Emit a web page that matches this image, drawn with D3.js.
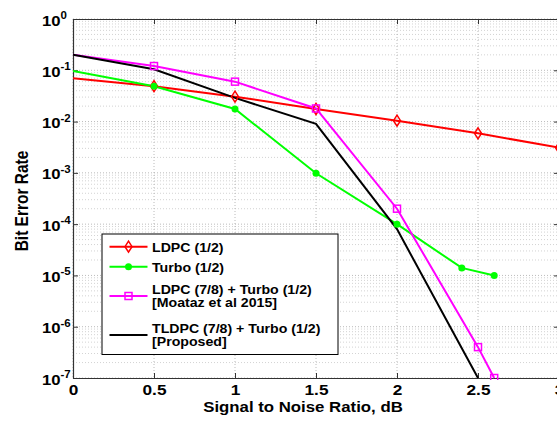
<!DOCTYPE html>
<html>
<head>
<meta charset="utf-8">
<script src="https://cdn.jsdelivr.net/npm/d3@7"></script>
<style>
    body { margin: 0; background: #fff; }
    svg { display: block; font-family: "Liberation Sans", Arial, sans-serif; }
</style>
</head>
<body>
<svg id="chart_ber"></svg>
<script>
// Values
const snrX = [0, 0.5, 1, 1.5, 2, 2.5, 3];
const ldpcBer = [0.07, 0.049, 0.0306, 0.0176, 0.0104, 0.0059, 0.0031];

const turboX = [0, 0.5, 1, 1.5, 2, 2.4, 2.6];
const turboBer = [0.097, 0.049, 0.0176, 0.00098, 0.0001, 1.4e-5, 1.0e-5];

const moatazX = [0, 0.5, 1, 1.5, 2, 2.5, 2.6];
const moatazBer = [0.2, 0.121, 0.06, 0.018, 0.0002, 4e-7, 1e-7];

const proposedX = [0, 0.5, 1, 1.5, 2, 2.5];
const proposedBer = [0.2, 0.105, 0.029, 0.009, 0.00008, 1e-7];

const xTicks = [0, 0.5, 1, 1.5, 2, 2.5, 3];
const yExponents = [0, -1, -2, -3, -4, -5, -6, -7];

const seriesNames = [
    ["LDPC (1/2)"],
    ["Turbo (1/2)"],
    ["LDPC (7/8) + Turbo (1/2)", "[Moataz et al 2015]"],
    ["TLDPC (7/8) + Turbo (1/2)", "[Proposed]"]
];
const seriesColours = ["#ff0000", "#00ff00", "#ff00ff", "#000000"];
const seriesMarkers = ["diamond", "dot", "square", "none"];

// The reference text is a bit wider than the font, stretch it horizontally
const stretch = 1.15;

const width = 557, height = 426;
const margin = { top: 19, right: -2, bottom: 48, left: 73 };
const plotW = width - margin.left - margin.right;
const plotH = height - margin.top - margin.bottom;

const svg = d3.select("#chart_ber")
    .attr("width", width)
    .attr("height", height);

const g = svg.append("g")
    .attr("transform", `translate(${margin.left}, ${margin.top})`);

const xScale = d3.scaleLinear().domain([0, 3]).range([0, plotW]);
const yScale = d3.scaleLog().domain([1e-7, 1]).range([plotH, 0]);
const decades = yExponents.map(e => Math.pow(10, e));

// Grid - minor log lines first, then major
const minorY = [];
yExponents.slice(1).forEach(e => {
    for (let m = 2; m <= 9; m++) minorY.push(m * Math.pow(10, e));
});

g.selectAll(".minorGrid")
    .data(minorY)
    .join("line")
    .attr("x1", 0)
    .attr("x2", plotW)
    .attr("y1", d => yScale(d))
    .attr("y2", d => yScale(d))
    .attr("stroke", "#c8c8c8")
    .attr("stroke-width", 0.8)
    .attr("stroke-dasharray", "1,2");

g.selectAll(".yGrid")
    .data(decades)
    .join("line")
    .attr("x1", 0)
    .attr("x2", plotW)
    .attr("y1", d => yScale(d))
    .attr("y2", d => yScale(d))
    .attr("stroke", "#a8a8a8")
    .attr("stroke-width", 0.8)
    .attr("stroke-dasharray", "1,2");

g.selectAll(".xGrid")
    .data(xTicks)
    .join("line")
    .attr("x1", d => xScale(d))
    .attr("x2", d => xScale(d))
    .attr("y1", 0)
    .attr("y2", plotH)
    .attr("stroke", "#a8a8a8")
    .attr("stroke-width", 0.8)
    .attr("stroke-dasharray", "1,2");

// Axes (MATLAB style, ticks pointing in)
const xAxis = d3.axisBottom(xScale).tickValues(xTicks).tickSizeInner(-5).tickSizeOuter(0)
    .tickPadding(6).tickFormat(d => d3.format("")(d));

const xAxisG = g.append("g")
    .attr("transform", `translate(0, ${plotH})`)
    .call(xAxis);
xAxisG.selectAll("text")
    .attr("transform", `scale(${stretch}, 1)`)
    .style("font-size", "15px")
    .style("font-weight", "bold")
    .attr("fill", "#000");

g.append("g")
    .call(d3.axisTop(xScale).tickValues(xTicks).tickSizeInner(-5).tickSizeOuter(0).tickFormat(""));

g.append("g")
    .call(d3.axisLeft(yScale).tickValues(decades).tickSizeInner(-5).tickSizeOuter(0).tickFormat(""));
g.append("g").attr("transform", `translate(${plotW}, 0)`)
    .call(d3.axisRight(yScale).tickValues(decades).tickSizeInner(-5).tickSizeOuter(0).tickFormat(""));

g.selectAll(".domain").attr("stroke", "#333").attr("stroke-width", 1.2);
g.selectAll(".tick line").attr("stroke", "#333");

// y tick labels as 10^n
const yLabels = g.selectAll(".yLabel")
    .data(yExponents)
    .join("text")
    .attr("transform", d => `translate(-31, ${yScale(Math.pow(10, d)) + 6.5}) scale(${stretch}, 1)`)
    .attr("text-anchor", "start")
    .style("font-weight", "bold")
    .attr("fill", "#000");
yLabels.append("tspan").style("font-size", "14.5px").text("10");
yLabels.append("tspan").style("font-size", "10px").attr("dy", -6.5).text(d => d);

// Axis titles
svg.append("text")
    .attr("transform", `translate(${margin.left + xScale(1.5) - 13}, 412) scale(1.12, 1)`)
    .attr("text-anchor", "middle")
    .style("font-size", "15px")
    .style("font-weight", "bold")
    .text("Signal to Noise Ratio, dB");

svg.append("text")
    .attr("transform", `translate(28, 201) scale(${stretch}, 1) rotate(-90)`)
    .attr("text-anchor", "middle")
    .style("font-size", "15.5px")
    .style("font-weight", "bold")
    .text("Bit Error Rate");

// Lines
svg.append("clipPath").attr("id", "plotClip")
    .append("rect").attr("x", 0).attr("y", -2).attr("width", plotW).attr("height", plotH + 4);

const lineGenerator = d3.line()
    .x(d => xScale(d[0]))
    .y(d => yScale(d[1]));

const allSeries = [
    d3.zip(snrX, ldpcBer),
    d3.zip(turboX, turboBer),
    d3.zip(moatazX, moatazBer),
    d3.zip(proposedX, proposedBer)
];

const plotLayer = g.append("g").attr("clip-path", "url(#plotClip)");

function drawMarker(sel, type, colour, x, y) {
    if (type === "diamond") {
        sel.append("path")
            .attr("d", `M${x},${y - 5.5}L${x + 3.5},${y}L${x},${y + 5.5}L${x - 3.5},${y}Z`)
            .attr("fill", "none").attr("stroke", colour).attr("stroke-width", 1.5);
    } else if (type === "dot") {
        sel.append("circle").attr("cx", x).attr("cy", y).attr("r", 3.5).attr("fill", colour);
    } else if (type === "square") {
        sel.append("rect").attr("x", x - 3.5).attr("y", y - 3.5).attr("width", 7).attr("height", 7)
            .attr("fill", "none").attr("stroke", colour).attr("stroke-width", 1.5);
    }
}

allSeries.forEach((pts, i) => {
    plotLayer.append("path")
        .datum(pts)
        .attr("d", lineGenerator)
        .attr("fill", "none")
        .attr("stroke", seriesColours[i])
        .attr("stroke-width", 2);
});

allSeries.forEach((pts, i) => {
    pts.forEach((p, j) => {
        // the first point at x = 0 sits on the axis, no marker visible there
        if (j === 0) return;
        drawMarker(plotLayer, seriesMarkers[i], seriesColours[i], xScale(p[0]), yScale(p[1]));
    });
});

// Legend
const legend = svg.append("g").attr("transform", "translate(102, 234)");
legend.append("rect")
    .attr("width", 236)
    .attr("height", 120.5)
    .attr("fill", "#fff")
    .attr("stroke", "#000")
    .attr("stroke-width", 1);

const rowY = [12.7, 32.7, 62, 101];
seriesNames.forEach((textLines, i) => {
    const ly = rowY[i];
    legend.append("line")
        .attr("x1", 7.5).attr("x2", 45.5)
        .attr("y1", ly).attr("y2", ly)
        .attr("stroke", seriesColours[i])
        .attr("stroke-width", 2);
    drawMarker(legend, seriesMarkers[i], seriesColours[i], 26.5, ly);
    const t = legend.append("text")
        .attr("transform", `translate(50, ${textLines.length > 1 ? ly - 2 : ly + 5}) scale(1.09, 1)`)
        .style("font-size", "13px")
        .style("font-weight", "bold");
    textLines.forEach((s, k) => {
        t.append("tspan").attr("x", 0).attr("dy", k === 0 ? 0 : 13.4).text(s);
    });
});
</script>
</body>
</html>
